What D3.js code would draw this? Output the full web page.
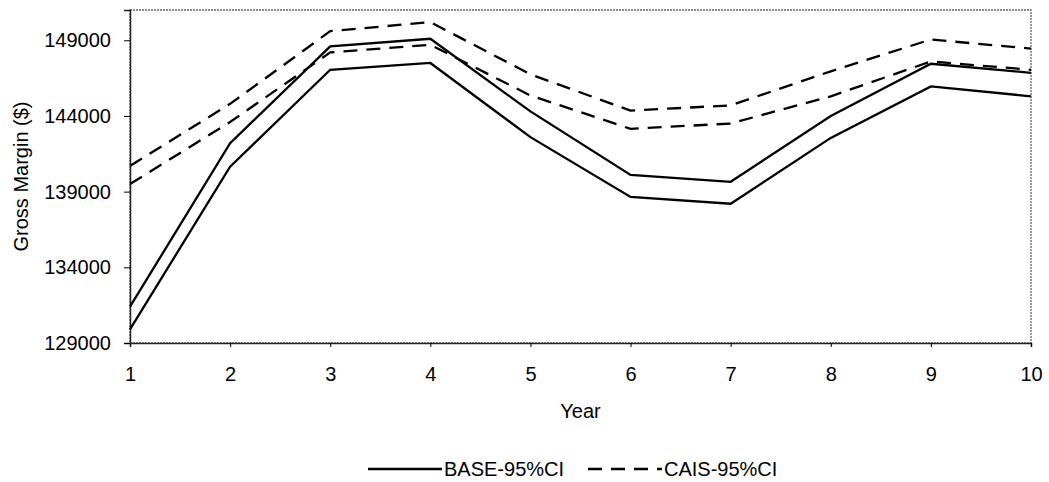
<!DOCTYPE html>
<html>
<head>
<meta charset="utf-8">
<script src="https://cdn.jsdelivr.net/npm/d3@7"></script>
<style>
  body { margin: 0; background: #fff; }
  text { font-family: "Liberation Sans", Arial, sans-serif; fill: #000; }
</style>
</head>
<body>
<div id="chart"></div>
<script>
// values
var years = [1, 2, 3, 4, 5, 6, 7, 8, 9, 10];
var baseUpper = [131400, 142200, 148600, 149100, 144300, 140100, 139650, 144000, 147450, 146850];
var baseLower = [129900, 140650, 147050, 147500, 142600, 138650, 138200, 142550, 145950, 145300];
var caisUpper = [140700, 144800, 149600, 150200, 146750, 144350, 144700, 146950, 149050, 148450];
var caisLower = [139500, 143600, 148200, 148700, 145350, 143150, 143500, 145300, 147600, 147050];
var yTicks = [129000, 134000, 139000, 144000, 149000];
var legendNames = ["BASE-95%CI", "CAIS-95%CI"];

var svgWidth = 1049;
var svgHeight = 482;
var margin = { left: 130, right: 18, top: 10, bottom: 139 };
var width = svgWidth - margin.left - margin.right;
var height = svgHeight - margin.top - margin.bottom;

var svg = d3.select("#chart")
  .append("svg")
  .attr("width", svgWidth)
  .attr("height", svgHeight);

var chartGroup = svg.append("g")
  .attr("transform", `translate(${margin.left}, ${margin.top})`);

var xScale = d3.scaleLinear().domain([1, 10]).range([0, width]);
var yScale = d3.scaleLinear().domain([129000, 151000]).range([height, 0]);

// plot frame (thin grey dotted, like the scan)
chartGroup.append("rect")
  .attr("width", width)
  .attr("height", height)
  .attr("fill", "none")
  .attr("stroke", "#666")
  .attr("stroke-width", 1.3)
  .attr("stroke-dasharray", "2,1");

var xAxis = d3.axisBottom(xScale).tickValues(years).tickSize(4).tickPadding(20).tickFormat(d3.format("d"));
var yAxis = d3.axisLeft(yScale).tickValues(yTicks).tickSize(6).tickPadding(13).tickFormat(d3.format("d"));

var gx = chartGroup.append("g")
  .attr("transform", "translate(0," + height + ")")
  .call(xAxis);
var gy = chartGroup.append("g").call(yAxis);

[gx, gy].forEach(function (g) {
  g.selectAll("text").style("font-size", "20px");
  g.select(".domain").attr("stroke", "#222").attr("stroke-width", 1.5);
  g.selectAll(".tick line").attr("stroke", "#000").attr("stroke-width", 1);
});

var line = d3.line()
  .x(function (d, i) { return xScale(years[i]); })
  .y(function (d) { return yScale(d); });

var series = [
  { values: baseUpper, dash: null },
  { values: baseLower, dash: null },
  { values: caisUpper, dash: "14,9" },
  { values: caisLower, dash: "14,9" }
];

series.forEach(function (s) {
  chartGroup.append("path")
    .attr("d", line(s.values))
    .attr("fill", "none")
    .attr("stroke", "#000")
    .attr("stroke-width", 2.3)
    .attr("stroke-dasharray", s.dash);
});

// axis titles
svg.append("text")
  .attr("x", margin.left + width / 2)
  .attr("y", 418)
  .attr("text-anchor", "middle")
  .style("font-size", "20px")
  .text("Year");

svg.append("text")
  .attr("transform", "translate(28," + (margin.top + height / 2) + ") rotate(-90)")
  .attr("text-anchor", "middle")
  .style("font-size", "20px")
  .text("Gross Margin ($)");

// legend
var legend = svg.append("g").attr("transform", "translate(368,469)");
var legendX = [0, 220];
legendNames.forEach(function (name, i) {
  var g = legend.append("g").attr("transform", "translate(" + legendX[i] + ",0)");
  g.append("line")
    .attr("x1", 0).attr("x2", 74)
    .attr("y1", 0).attr("y2", 0)
    .attr("stroke", "#000")
    .attr("stroke-width", 2.3)
    .attr("stroke-dasharray", i === 1 ? "14,9" : null);
  g.append("text")
    .attr("x", 76)
    .attr("y", 7)
    .style("font-size", "20px")
    .text(name);
});
</script>
</body>
</html>
